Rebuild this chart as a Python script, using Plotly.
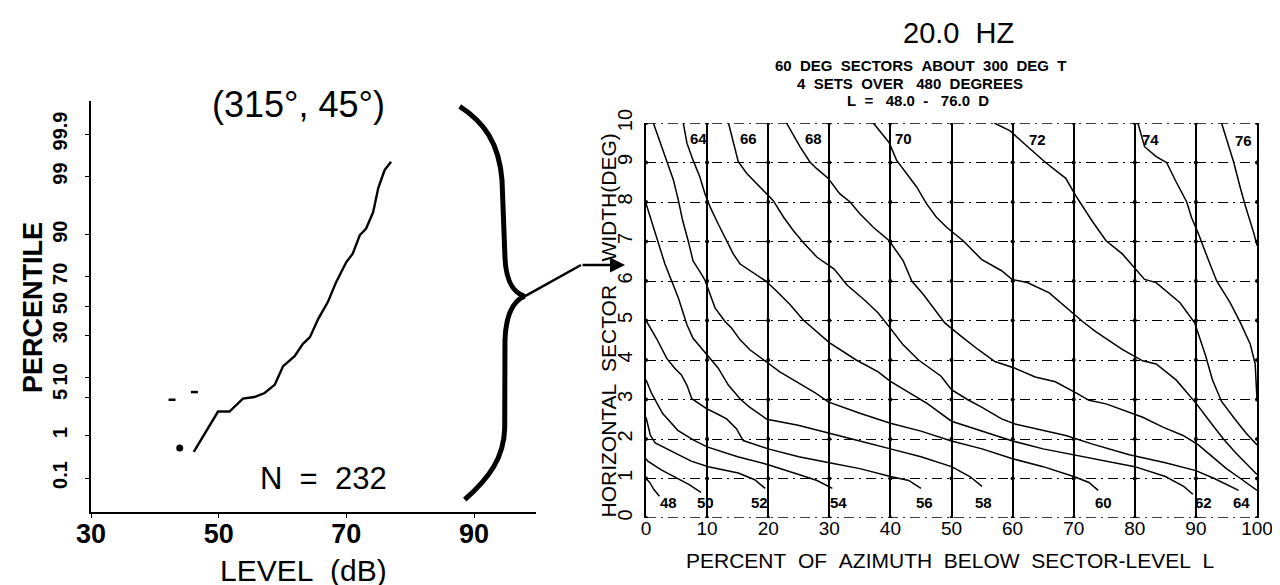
import plotly.graph_objects as go
from statistics import NormalDist

W, H = 1280, 585
FONT = "Liberation Sans, Arial, Helvetica, sans-serif"

# ---------------- left panel data (cumulative distribution) ----------------
level_db = [46.1, 49.9, 51.7, 53.8, 55.6, 57.2, 58.8, 60.1, 61.9, 63.2, 64.3, 65.6,
            67.1, 68.4, 70.0, 71.0, 72.1, 73.1, 74.2, 75.0, 76.0, 77.0]
percentile = [0.44, 2.9, 2.9, 4.8, 5.1, 5.9, 7.9, 14.0, 18.4, 24.8, 28.8, 40.9,
              52.8, 66.6, 78.5, 82.6, 89.8, 91.8, 95.4, 98.3, 99.27, 99.52]
stray_db = [43.9]
stray_pct = [0.54]
dash_db = [42.7, 46.2]
dash_pct = [4.6, 6.1]
pct_ticks = [0.1, 1, 5, 10, 30, 50, 70, 90, 99, 99.9]
pct_ticktext = ["0.1", "1", "5", "10", "30", "50", "70", "90", "99", "99.9"]
level_ticks = [30, 50, 70, 90]

nd = NormalDist()
def z(p):
    return nd.inv_cdf(p / 100.0)

# ---------------- right panel data (contours) ----------------
contour_x = [
    [0, 0.6, 1.3, 2.2],
    [0, 0.3, 2.5, 5.2, 7, 9],
    [0, 0.7, 1.5, 3.1, 7.4, 10.2, 15.1, 17.8, 19.5],
    [0, 0.9, 2.7, 5.2, 7.8, 10, 15, 20, 25, 28, 30.5],
    [0, 1.7, 3.4, 4.7, 5.8, 6.7, 7.5, 9.9, 11.6, 13.2, 14.8, 15.9, 20, 25, 30, 35, 40, 43, 45],
    [0, 1.2, 2.3, 3.1, 4.2, 5.3, 6.7, 7.7, 9.6, 11.8, 13.5, 15.5, 17, 19.8, 24.9, 30, 35, 40,
     45, 50, 53, 55],
    [1.2, 2.3, 3.4, 4.5, 5.3, 6, 6.9, 7.7, 9.1, 9.65, 11.3, 12.9, 14, 15.4, 17, 19.6, 21.9,
     24.6, 27.9, 29.8, 35, 40, 45, 50, 55, 60, 65, 70, 72.5, 74],
    [6.1, 6.7, 7.7, 8.8, 9.65, 10.5, 11.8, 13.2, 14.3, 15.4, 17, 18.6, 19.6, 21.4, 23.6, 25.7,
     27.9, 30, 34.4, 38, 40, 43.1, 46, 50, 55, 60, 65, 70, 75, 80, 85, 88, 89.5],
    [13.5, 14.3, 15.1, 16.5, 18.1, 20.8, 22.5, 24.1, 25.7, 28, 30.8, 32.9, 35.9, 38, 40, 42,
     44.6, 48.3, 50, 52.6, 55, 58.2, 60.4, 64, 68.7, 73.1, 79.1, 85, 90, 93, 95, 97],
    [23, 25.2, 26.8, 27.9, 29.8, 31.7, 33.4, 35, 37.2, 39.8, 42.1, 43.5, 45.4, 47, 48.9, 51.6,
     54.4, 57.1, 60.4, 63.7, 67, 70.6, 72.5, 75.3, 81.3, 84.6, 87.9, 90.4, 93, 95, 97.3, 99.2, 100],
    [37.2, 39.8, 41, 42.6, 44.3, 45.9, 47.5, 49.2, 51.9, 54.9, 58.2, 59.9, 62.4, 66, 69.2, 71.4,
     73.6, 78, 81.3, 83.5, 86.8, 90.1, 92.5, 94.5, 96.5, 98.5, 100],
    [57, 59.6, 62.1, 65.4, 68.7, 70.3, 73.1, 75.3, 78, 81.6, 83.5, 87.4, 89.8, 91.6, 92.7, 94.2,
     96.4, 98.2, 100],
    [80.5, 81.6, 83.5, 85.2, 86.8, 88.5, 89.3, 90.4, 92, 93.4, 95.6, 97.3, 98.9, 99.7, 100],
    [94.2, 95.2, 96.2, 97.2, 98.1, 99.5, 100],
]
contour_y = [
    [1.0, 0.9, 0.72, 0.55],
    [1.5, 1.44, 1.22, 1.01, 0.85, 0.65],
    [2.55, 2.1, 1.9, 1.77, 1.44, 1.3, 1.14, 0.97, 0.75],
    [3.5, 3.16, 2.65, 2.22, 1.97, 1.8, 1.55, 1.35, 1.1, 0.95, 0.75],
    [5.0, 4.55, 4.04, 3.79, 3.62, 3.36, 3.02, 2.77, 2.64, 2.51, 2.26, 1.96, 1.75, 1.55, 1.4,
     1.25, 1.05, 0.95, 0.75],
    [7.96, 7.36, 6.85, 6.43, 6.0, 5.57, 4.89, 4.55, 4.2, 3.8, 3.36, 3.0, 2.8, 2.5, 2.35, 2.14,
     1.95, 1.75, 1.55, 1.3, 1.05, 0.8],
    [10, 9.53, 9.02, 8.55, 8.04, 7.53, 7.02, 6.51, 6.17, 6.02, 5.32, 4.98, 4.81, 4.51, 4.26,
     3.97, 3.7, 3.45, 3.15, 2.94, 2.65, 2.4, 2.2, 1.95, 1.75, 1.5, 1.3, 1.05, 0.9, 0.7],
    [10, 9.49, 9.06, 8.64, 8.21, 7.87, 7.45, 7.02, 6.68, 6.43, 6.26, 6.09, 6.0, 5.74, 5.4, 5.02,
     4.72, 4.44, 4.0, 3.7, 3.46, 3.16, 2.9, 2.45, 2.2, 1.95, 1.75, 1.6, 1.45, 1.3, 1.05, 0.8, 0.6],
    [10, 9.49, 9.02, 8.72, 8.47, 8.04, 7.62, 7.28, 6.98, 6.6, 6.3, 5.9, 5.5, 5.19, 4.8, 4.4,
     4.0, 3.59, 3.25, 3.0, 2.8, 2.51, 2.38, 2.25, 2.09, 1.87, 1.6, 1.4, 1.2, 1.0, 0.85, 0.7],
    [10, 9.4, 9.02, 8.85, 8.6, 8.21, 8.0, 7.7, 7.36, 7.02, 6.51, 6.0, 5.66, 5.32, 4.94, 4.6,
     4.26, 3.96, 3.79, 3.57, 3.45, 3.15, 2.98, 2.89, 2.55, 2.3, 2.09, 1.85, 1.5, 1.25, 1.0, 0.8, 0.7],
    [10, 9.5, 9.06, 8.72, 8.38, 7.96, 7.62, 7.36, 7.02, 6.55, 6.26, 6.04, 5.96, 5.7, 5.28, 4.98,
     4.72, 4.26, 3.98, 3.9, 3.49, 2.89, 2.4, 2.0, 1.65, 1.35, 1.1],
    [10, 9.8, 9.45, 9.0, 8.6, 8.17, 7.5, 7.02, 6.68, 6.04, 5.96, 5.45, 4.94, 4.1, 3.5, 2.95,
     2.5, 2.15, 1.85],
    [10, 9.4, 9.15, 9.0, 8.5, 8.0, 7.6, 7.2, 6.55, 6.0, 5.45, 4.94, 4.4, 3.9, 3.0],
    [10, 9.5, 9.0, 8.4, 7.9, 7.2, 6.9],
]
level_labels = ["48", "50", "52", "54", "56", "58", "60", "62", "64",
                "64", "66", "68", "70", "72", "74", "76"]
label_x = [3.7, 9.7, 18.6, 31.5, 45.6, 55.2, 74.9, 91.3, 97.4,
           8.6, 16.7, 27.4, 42.1, 64.1, 82.6, 97.8]
label_y = [0.38, 0.38, 0.38, 0.38, 0.38, 0.38, 0.38, 0.38, 0.38,
           9.6, 9.6, 9.6, 9.6, 9.57, 9.57, 9.55]
pct_az_ticks = [0, 10, 20, 30, 40, 50, 60, 70, 80, 90, 100]
width_ticks = [0, 1, 2, 3, 4, 5, 6, 7, 8, 9, 10]

# ---------------- layout geometry (pixels) ----------------
def px(x):
    return x / W

def py(y):
    return 1 - y / H

L_X0, L_X1, L_Y0, L_Y1 = 83, 528, 93, 504
R_X0, R_X1, R_Y0, R_Y1 = 638, 1249, 115, 510
Z_PER_PX = 1 / 55.66
Z_MID_PX = 298
GRID_DASH = "10px,5px,2px,5px"

fig = go.Figure()

# left panel
fig.add_trace(go.Scatter(x=level_db, y=[z(p) for p in percentile], mode="lines",
                         line=dict(color="black", width=2.4), xaxis="x", yaxis="y",
                         showlegend=False, hoverinfo="skip"))
fig.add_trace(go.Scatter(x=stray_db, y=[z(p) for p in stray_pct], mode="markers",
                         marker=dict(color="black", size=7), xaxis="x", yaxis="y",
                         showlegend=False, hoverinfo="skip"))
fig.add_trace(go.Scatter(x=dash_db, y=[z(p) for p in dash_pct], mode="markers",
                         marker=dict(color="black", size=5, symbol="line-ew",
                                     line=dict(width=2.5, color="black")),
                         xaxis="x", yaxis="y", showlegend=False, hoverinfo="skip"))

# right panel grid-intersection dots
gx, gy = [], []
for a in pct_az_ticks:
    for b in width_ticks:
        gx.append(a)
        gy.append(b)
fig.add_trace(go.Scatter(x=gx, y=gy, mode="markers", marker=dict(color="black", size=4),
                         xaxis="x2", yaxis="y2", showlegend=False, hoverinfo="skip"))
for cx, cy in zip(contour_x, contour_y):
    fig.add_trace(go.Scatter(x=cx, y=cy, mode="lines", line=dict(color="black", width=1.5),
                             xaxis="x2", yaxis="y2", showlegend=False, hoverinfo="skip"))

z_top = (Z_MID_PX - L_Y0) * Z_PER_PX
z_bot = (Z_MID_PX - L_Y1) * Z_PER_PX
db_per_px = 60 / (466 - 83)
x_max = 30 + (L_X1 - L_X0) * db_per_px

fig.update_layout(
    width=W, height=H, margin=dict(l=0, r=0, t=0, b=0),
    template="none", paper_bgcolor="white", plot_bgcolor="rgba(0,0,0,0)",
    showlegend=False,
    xaxis=dict(domain=[px(L_X0), px(L_X1)], range=[30, x_max], tickvals=level_ticks,
               showline=True, linecolor="black", linewidth=2, ticks="outside", ticklen=4,
               tickcolor="black", showgrid=False, zeroline=False,
               tickfont=dict(family=FONT, size=27, color="black", weight="bold"),
               anchor="y", automargin=False, ticklabelstandoff=-7),
    yaxis=dict(domain=[py(L_Y1), py(L_Y0)], range=[z_bot, z_top],
               tickvals=[z(p) for p in pct_ticks], ticktext=pct_ticktext, tickangle=-90,
               showline=True, linecolor="black", linewidth=2, ticks="outside", ticklen=4,
               tickcolor="black", showgrid=False, zeroline=False,
               tickfont=dict(family=FONT, size=20, color="black", weight="bold"),
               anchor="x", automargin=False, ticklabelstandoff=10),
    xaxis2=dict(domain=[px(R_X0), px(R_X1)], range=[0, 100], tickvals=pct_az_ticks,
                showline=False, ticks="", showgrid=True, gridcolor="black", gridwidth=2.2,
                zeroline=False, tickfont=dict(family=FONT, size=19, color="black"),
                anchor="y2", automargin=False, ticklabelstandoff=-3),
    yaxis2=dict(domain=[py(R_Y1), py(R_Y0)], range=[0, 10], tickvals=width_ticks,
                tickangle=-90, showline=True, mirror=True, linecolor="black", linewidth=2.2,
                ticks="", showgrid=True, gridcolor="black", gridwidth=1.3,
                griddash=GRID_DASH, zeroline=False,
                tickfont=dict(family=FONT, size=20, color="black"),
                anchor="x2", automargin=False, ticklabelstandoff=4),
)

ann = []
def text(x, y, s, size, angle=0, weight="normal"):
    ann.append(dict(x=px(x), y=py(y), xref="paper", yref="paper", text=s, showarrow=False,
                    textangle=angle, xanchor="center", yanchor="middle",
                    font=dict(family=FONT, size=size, color="black", weight=weight)))

NB = "\u00a0"
text(290, 97, "(315°, 45°)", 36)
text(315, 470, f"N{NB*2}={NB*2}232", 31)
text(25, 300, "PERCENTILE", 27, angle=-90, weight="bold")
text(295, 562, f"LEVEL{NB*2}(dB)", 30)
text(950, 25, f"20.0{NB*2}HZ", 29)
text(912, 57.5, (NB * 2).join(["60", "DEG", "SECTORS", "ABOUT", "300", "DEG", "T"]), 15, weight="bold")
text(902, 75, f"4{NB*2}SETS{NB*2}OVER{NB*3}480{NB*2}DEGREES", 15, weight="bold")
text(910, 92.5, f"L{NB*2}={NB*3}48.0{NB*2}-{NB*3}76.0{NB*2}D", 15, weight="bold")
text(600, 317.5, f"HORIZONTAL{NB*2}SECTOR{NB*4}WIDTH(DEG)", 21, angle=-90)
text(942, 552, NB.join(["PERCENT", "", "OF", "", "AZIMUTH", "", "BELOW", "",
                        "SECTOR-LEVEL", "", "L"]), 21)

for s, lx, ly in zip(level_labels, label_x, label_y):
    ann.append(dict(x=lx, y=ly, xref="x2", yref="y2", text=s, showarrow=False,
                    xanchor="center", yanchor="middle",
                    font=dict(family=FONT, size=15, color="black", weight="bold")))

# arrow from brace into the right panel axis title
ARROW_TAIL = (573, 257)
ARROW_HEAD = (617, 257)
ann.append(dict(x=px(ARROW_HEAD[0]), y=py(ARROW_HEAD[1]), xref="paper", yref="paper",
                ax=ARROW_TAIL[0] - ARROW_HEAD[0], ay=0, text="", showarrow=True,
                arrowhead=2, arrowsize=1.2, arrowwidth=2.5, arrowcolor="black"))
fig.update_layout(annotations=ann)

# curly brace (decoration)
def pth(cmds):
    out = []
    for c in cmds:
        if isinstance(c, str):
            out.append(c)
        else:
            out.append(f"{px(c[0]):.5f},{py(c[1]):.5f}")
    return " ".join(out)

brace_top = ["M", (451.7, 98.3), "C", (476, 114), (491, 135), (494, 172), "L", (497, 250),
             "C", (498, 272), (504, 284), (516.7, 288.3)]
brace_bot = ["M", (516.7, 288.3), "C", (505, 293), (498, 306), (497, 332), "L", (496.7, 420),
             "C", (496, 450), (481, 470), (456.7, 491.7)]
shapes = []
for b in (brace_top, brace_bot):
    shapes.append(dict(type="path", xref="paper", yref="paper", path=pth(b),
                       line=dict(color="black", width=5)))
shapes.append(dict(type="line", xref="paper", yref="paper", x0=px(516.7), y0=py(288.3),
                   x1=px(ARROW_TAIL[0]), y1=py(ARROW_TAIL[1]),
                   line=dict(color="black", width=2.5)))
# dashed frame lines at the bottom and top of the right panel
for yv in (width_ticks[0], width_ticks[-1]):
    shapes.append(dict(type="line", xref="x2 domain", yref="y2", x0=0, x1=1, y0=yv, y1=yv,
                       line=dict(color="black", width=1.3, dash=GRID_DASH)))
fig.update_layout(shapes=shapes)

fig.write_html("out.html")
